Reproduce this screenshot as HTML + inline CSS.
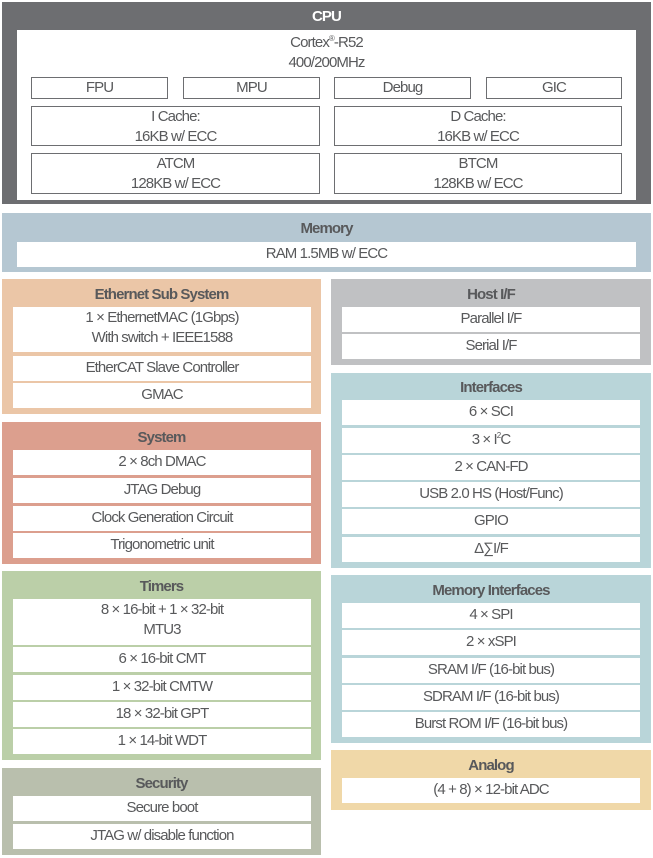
<!DOCTYPE html><html><head><style>
body{margin:0;width:653px;height:858px;position:relative;background:#fff;font-family:"Liberation Sans",sans-serif;color:#58595b;overflow:hidden}
div{position:absolute;box-sizing:border-box}
sup{line-height:0;font-size:8px;vertical-align:6px}
.w{background:#fff;text-align:center;font-size:15px;letter-spacing:-0.9px;line-height:24px}
.o{border:1px solid #6d6e71}
.t{text-align:center;font-weight:bold;font-size:15px;letter-spacing:-0.9px;color:#58595b}
.two{line-height:20px;padding-top:1px}
</style></head><body>
<div style="left:2px;top:2px;width:649px;height:202px;background:#6d6e71"></div>
<div class="t" style="left:2px;top:8px;width:649px;color:#fff">CPU</div>
<div style="left:17px;top:30px;width:619px;height:170px;background:#fff"></div>
<div class="w two" style="left:17px;top:32px;width:619px;height:40px;background:none">Cortex<sup>®</sup>-R52<br>400/200MHz</div>
<div class="w o" style="left:31px;top:77px;width:137px;height:22px;line-height:20px">FPU</div>
<div class="w o" style="left:183px;top:77px;width:137px;height:22px;line-height:20px">MPU</div>
<div class="w o" style="left:334px;top:77px;width:137px;height:22px;line-height:20px">Debug</div>
<div class="w o" style="left:486px;top:77px;width:136px;height:22px;line-height:20px">GIC</div>
<div class="w o two" style="left:31px;top:106px;width:289px;height:40px;padding-top:0">I Cache:<br>16KB w/ ECC</div>
<div class="w o two" style="left:334px;top:106px;width:288px;height:40px;padding-top:0">D Cache:<br>16KB w/ ECC</div>
<div class="w o two" style="left:31px;top:153px;width:289px;height:41px;padding-top:0">ATCM<br>128KB w/ ECC</div>
<div class="w o two" style="left:334px;top:153px;width:288px;height:41px;padding-top:0">BTCM<br>128KB w/ ECC</div>

<div style="left:2px;top:213px;width:649px;height:59px;background:#b5c7d2"></div>
<div class="t" style="left:2px;top:220px;width:649px">Memory</div>
<div class="w" style="left:17px;top:242px;width:619px;height:25px">RAM 1.5MB w/ ECC</div>

<div style="left:2px;top:279px;width:319px;height:135px;background:#ebc6a7"></div>
<div class="t" style="left:2px;top:286px;width:319px">Ethernet Sub System</div>
<div class="w two" style="left:13px;top:307px;width:298px;height:45px">1 × EthernetMAC (1Gbps)<br>With switch + IEEE1588</div>
<div class="w" style="left:13px;top:356px;width:298px;height:25px">EtherCAT Slave Controller</div>
<div class="w" style="left:13px;top:383px;width:298px;height:25px">GMAC</div>

<div style="left:2px;top:422px;width:319px;height:142px;background:#dc9f8e"></div>
<div class="t" style="left:2px;top:429px;width:319px">System</div>
<div class="w" style="left:13px;top:450px;width:298px;height:25px">2 × 8ch DMAC</div>
<div class="w" style="left:13px;top:478px;width:298px;height:25px">JTAG Debug</div>
<div class="w" style="left:13px;top:506px;width:298px;height:25px">Clock Generation Circuit</div>
<div class="w" style="left:13px;top:533px;width:298px;height:25px">Trigonometric unit</div>

<div style="left:2px;top:571px;width:319px;height:189px;background:#bbcfa8"></div>
<div class="t" style="left:2px;top:578px;width:319px">Timers</div>
<div class="w two" style="left:13px;top:599px;width:298px;height:46px">8 × 16-bit + 1 × 32-bit<br>MTU3</div>
<div class="w" style="left:13px;top:647px;width:298px;height:25px">6 × 16-bit CMT</div>
<div class="w" style="left:13px;top:675px;width:298px;height:25px">1 × 32-bit CMTW</div>
<div class="w" style="left:13px;top:702px;width:298px;height:25px">18 × 32-bit GPT</div>
<div class="w" style="left:13px;top:729px;width:298px;height:25px">1 × 14-bit WDT</div>

<div style="left:2px;top:768px;width:319px;height:87px;background:#b9bfad"></div>
<div class="t" style="left:2px;top:775px;width:319px">Security</div>
<div class="w" style="left:13px;top:796px;width:298px;height:25px">Secure boot</div>
<div class="w" style="left:13px;top:824px;width:298px;height:25px">JTAG w/ disable function</div>

<div style="left:331px;top:279px;width:320px;height:86px;background:#c0c1c3"></div>
<div class="t" style="left:331px;top:286px;width:320px">Host I/F</div>
<div class="w" style="left:342px;top:307px;width:298px;height:25px">Parallel I/F</div>
<div class="w" style="left:342px;top:334px;width:298px;height:25px">Serial I/F</div>

<div style="left:331px;top:373px;width:320px;height:195px;background:#b9d5d9"></div>
<div class="t" style="left:331px;top:379px;width:320px">Interfaces</div>
<div class="w" style="left:342px;top:400px;width:298px;height:25px">6 × SCI</div>
<div class="w" style="left:342px;top:428px;width:298px;height:25px">3 × I<sup>2</sup>C</div>
<div class="w" style="left:342px;top:455px;width:298px;height:25px">2 × CAN-FD</div>
<div class="w" style="left:342px;top:482px;width:298px;height:25px">USB 2.0 HS (Host/Func)</div>
<div class="w" style="left:342px;top:509px;width:298px;height:25px">GPIO</div>
<div class="w" style="left:342px;top:537px;width:298px;height:25px">Δ∑I/F</div>

<div style="left:331px;top:575px;width:320px;height:168px;background:#b9d5d9"></div>
<div class="t" style="left:331px;top:582px;width:320px">Memory Interfaces</div>
<div class="w" style="left:342px;top:603px;width:298px;height:25px">4 × SPI</div>
<div class="w" style="left:342px;top:630px;width:298px;height:25px">2 × xSPI</div>
<div class="w" style="left:342px;top:658px;width:298px;height:25px">SRAM I/F (16-bit bus)</div>
<div class="w" style="left:342px;top:685px;width:298px;height:25px">SDRAM I/F (16-bit bus)</div>
<div class="w" style="left:342px;top:712px;width:298px;height:25px">Burst ROM I/F (16-bit bus)</div>

<div style="left:331px;top:750px;width:320px;height:60px;background:#f0d8a8"></div>
<div class="t" style="left:331px;top:757px;width:320px">Analog</div>
<div class="w" style="left:342px;top:778px;width:298px;height:25px">(4 + 8) × 12-bit ADC</div>
</body></html>
